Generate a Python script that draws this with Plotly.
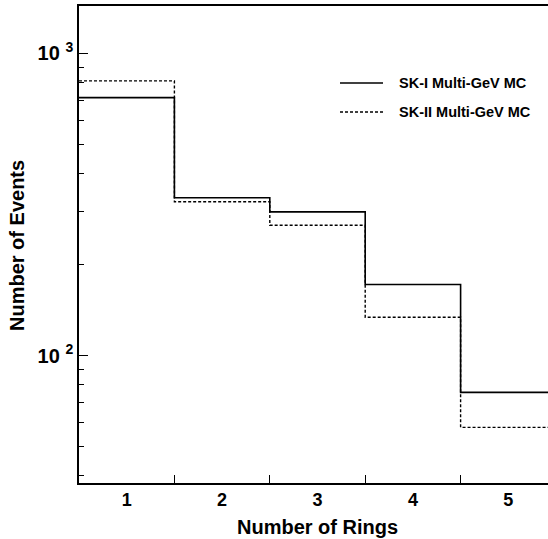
import plotly.graph_objects as go

# Ring-multiplicity histograms (events per bin)
rings = [1, 2, 3, 4, 5]
bin_edges = [0.5, 1.5, 2.5, 3.5, 4.5, 5.5]
sk1_events = [714, 333, 299, 172, 75.6]
sk2_events = [811, 323, 270, 134, 57.9]
series_names = ["SK-I Multi-GeV MC", "SK-II Multi-GeV MC"]
y_major = [100, 1000]
y_major_text = ["10 <sup>2</sup>", "10 <sup>3</sup>"]
y_minor = [40, 50, 60, 70, 80, 90, 200, 300, 400, 500, 600, 700, 800, 900]

FONT = "Liberation Sans, Arial, Helvetica, sans-serif"
W, H = 548, 539
L, R, T, B = 79, 0, 6, 56
bin_px = 95.4  # pixel width of one bin


def step(vals):
    # histogram outline: repeat last value at the closing edge
    return bin_edges, list(vals) + [vals[-1]]


fig = go.Figure()
x1, y1 = step(sk1_events)
x2, y2 = step(sk2_events)
fig.add_trace(go.Scatter(x=x1, y=y1, mode="lines", line_shape="hv",
                         line=dict(color="black", width=1.6),
                         name=series_names[0], showlegend=False))
fig.add_trace(go.Scatter(x=x2, y=y2, mode="lines", line_shape="hv",
                         line=dict(color="black", width=1.4, dash="3px,2px"),
                         name=series_names[1], showlegend=False))

plot_w = W - L - R
plot_h = H - T - B
x_hi = 0.5 + plot_w / bin_px

fig.update_layout(
    width=W, height=H,
    margin=dict(l=L, r=R, t=T, b=B, pad=0),
    paper_bgcolor="white", plot_bgcolor="white",
    font=dict(family=FONT, color="black", size=18, weight="bold"),
    xaxis=dict(
        range=[0.5, x_hi], showgrid=False, zeroline=False,
        showline=True, linecolor="black", linewidth=1.6, mirror=True,
        tickmode="array", tickvals=rings, ticktext=[str(r) for r in rings],
        ticks="", tickfont=dict(size=18, family=FONT, weight="bold"),
        minor=dict(tickmode="array", tickvals=bin_edges[1:-1],
                   ticks="inside", ticklen=8, tickwidth=1.3,
                   tickcolor="black", showgrid=False),
    ),
    yaxis=dict(
        type="log", range=[1.5786, 3.1569], showgrid=False, zeroline=False,
        showline=True, linecolor="black", linewidth=1.6, mirror=False,
        tickmode="array", tickvals=y_major, ticktext=y_major_text,
        ticks="inside", ticklen=9, tickwidth=1.3, tickcolor="black",
        tickfont=dict(size=20, family=FONT, weight="bold"),
        minor=dict(tickmode="array", tickvals=y_minor,
                   ticks="inside", ticklen=5, tickwidth=1.3,
                   tickcolor="black", showgrid=False),
    ),
)

# axis titles
fig.add_annotation(x=3.0, xref="x", y=-(527 - 483) / plot_h, yref="paper",
                   text="Number of Rings", showarrow=False,
                   font=dict(size=20, family=FONT, weight="bold"),
                   xanchor="center", yanchor="middle")
fig.add_annotation(x=-(L - 17) / plot_w, xref="paper", y=(483 - 246) / plot_h,
                   yref="paper", text="Number of Events", showarrow=False,
                   textangle=-90, font=dict(size=20, family=FONT, weight="bold"),
                   xanchor="center", yanchor="middle")

# legend entries
legend_rows = [(83, dict(color="black", width=1.6)),
               (112, dict(color="black", width=1.4, dash="3px,2px"))]
for (row_y, ln), name in zip(legend_rows, series_names):
    py = (483 - row_y) / plot_h
    fig.add_shape(type="line", xref="paper", yref="paper",
                  x0=(340 - L) / plot_w, x1=(383 - L) / plot_w, y0=py, y1=py,
                  line=ln)
    fig.add_annotation(x=(397 - L) / plot_w, xref="paper", y=py, yref="paper",
                       text=name, showarrow=False, xanchor="left",
                       yanchor="middle",
                       font=dict(size=14.5, family=FONT, weight="bold"))

fig.write_html("out.html")
